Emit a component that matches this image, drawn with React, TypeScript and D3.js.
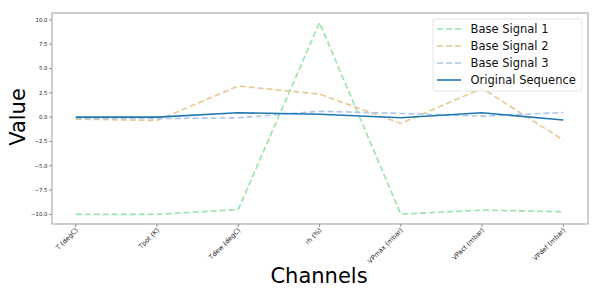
import React, { useEffect, useRef } from "react";
import * as d3 from "d3";

const channels = ["T (degC)", "Tpot (K)", "Tdew (degC)", "rh (%)", "VPmax (mbar)", "VPact (mbar)", "VPdef (mbar)"];
const baseSignal1 = [-10.0, -10.0, -9.5, 9.72, -9.97, -9.56, -9.72];
const baseSignal2 = [-0.2, -0.35, 3.2, 2.37, -0.65, 2.96, -2.37];
const baseSignal3 = [-0.12, -0.15, -0.07, 0.6, 0.38, 0.1, 0.48];
const original = [0.0, 0.0, 0.45, 0.3, -0.07, 0.45, -0.3];
const yTicks = [-10, -7.5, -5, -2.5, 0, 2.5, 5, 7.5, 10];

const series = [
  { name: "Base Signal 1", values: baseSignal1, color: "#94e6aa", dashed: true },
  { name: "Base Signal 2", values: baseSignal2, color: "#eac68f", dashed: true },
  { name: "Base Signal 3", values: baseSignal3, color: "#aec6e8", dashed: true },
  { name: "Original Sequence", values: original, color: "#1f77b4", dashed: false },
];

export default function App() {
  const ref = useRef<SVGSVGElement>(null);

  useEffect(() => {
    const svg = d3.select(ref.current);
    svg.selectAll("*").remove();

    const width = 598;
    const height = 300;
    const left = 52, right = 588, top = 13, bottom = 224;
    const font = "DejaVu Sans, sans-serif";

    const x = d3.scalePoint<string>()
      .domain(channels)
      .range([75.7, 563.3]);

    const all = series.flatMap(s => s.values);
    const lo = d3.min(all)!, hi = d3.max(all)!;
    const pad = (hi - lo) * 0.05;
    const y = d3.scaleLinear()
      .domain([lo - pad, hi + pad])
      .range([bottom, top]);

    svg.attr("width", width).attr("height", height);

    // lines
    const line = d3.line<number>()
      .x((_, i) => x(channels[i])!)
      .y(d => y(d));

    series.forEach(s => {
      svg.append("path")
        .datum(s.values)
        .attr("fill", "none")
        .attr("stroke", s.color)
        .attr("stroke-width", 1.6)
        .attr("stroke-dasharray", s.dashed ? "6,3" : null)
        .attr("d", line);
    });

    // frame
    svg.append("rect")
      .attr("x", left)
      .attr("y", top)
      .attr("width", right - left)
      .attr("height", bottom - top)
      .attr("fill", "none")
      .attr("stroke", "#adadad")
      .attr("stroke-width", 1.2);

    // y axis
    const yg = svg.append("g");
    yTicks.forEach(t => {
      yg.append("line")
        .attr("x1", left - 3).attr("x2", left)
        .attr("y1", y(t)).attr("y2", y(t))
        .attr("stroke", "#555").attr("stroke-width", 0.6);
      yg.append("text")
        .attr("x", left - 4.5)
        .attr("y", y(t))
        .attr("dy", "0.35em")
        .attr("text-anchor", "end")
        .attr("font-family", font)
        .attr("font-size", 5.4)
        .attr("fill", "#222")
        .text(d3.format(".1f")(t).replace("-", "\u2212"));
    });

    // x axis
    const xg = svg.append("g");
    channels.forEach(c => {
      const cx = x(c)!;
      xg.append("line")
        .attr("x1", cx).attr("x2", cx)
        .attr("y1", bottom).attr("y2", bottom + 3)
        .attr("stroke", "#555").attr("stroke-width", 0.6);
      xg.append("text")
        .attr("transform", `translate(${cx + 1},${bottom + 5}) rotate(-45)`)
        .attr("text-anchor", "end")
        .attr("dy", "0.35em")
        .attr("font-family", font)
        .attr("font-size", 6.5)
        .attr("fill", "#222")
        .text(c);
    });

    // axis titles
    svg.append("text")
      .attr("x", 319)
      .attr("y", 283)
      .attr("text-anchor", "middle")
      .attr("font-family", font)
      .attr("font-size", 21)
      .text("Channels");

    svg.append("text")
      .attr("transform", "translate(25,117) rotate(-90)")
      .attr("text-anchor", "middle")
      .attr("font-family", font)
      .attr("font-size", 21)
      .text("Value");

    // legend
    const lg = svg.append("g");
    lg.append("rect")
      .attr("x", 433).attr("y", 19)
      .attr("width", 149).attr("height", 72)
      .attr("rx", 2)
      .attr("fill", "white")
      .attr("fill-opacity", 0.8)
      .attr("stroke", "#ddd")
      .attr("stroke-width", 0.8);
    series.forEach((s, i) => {
      const ly = 29 + i * 17;
      lg.append("line")
        .attr("x1", 437).attr("x2", 461)
        .attr("y1", ly).attr("y2", ly)
        .attr("stroke", s.color)
        .attr("stroke-width", 1.6)
        .attr("stroke-dasharray", s.dashed ? "6,3" : null);
      lg.append("text")
        .attr("x", 470.5)
        .attr("y", ly)
        .attr("dy", "0.35em")
        .attr("font-family", font)
        .attr("font-size", 11.5)
        .attr("fill", "#111")
        .text(s.name);
    });
  }, []);

  return <svg ref={ref} style={{ position: "absolute", left: 0, top: 0 }}></svg>;
}
